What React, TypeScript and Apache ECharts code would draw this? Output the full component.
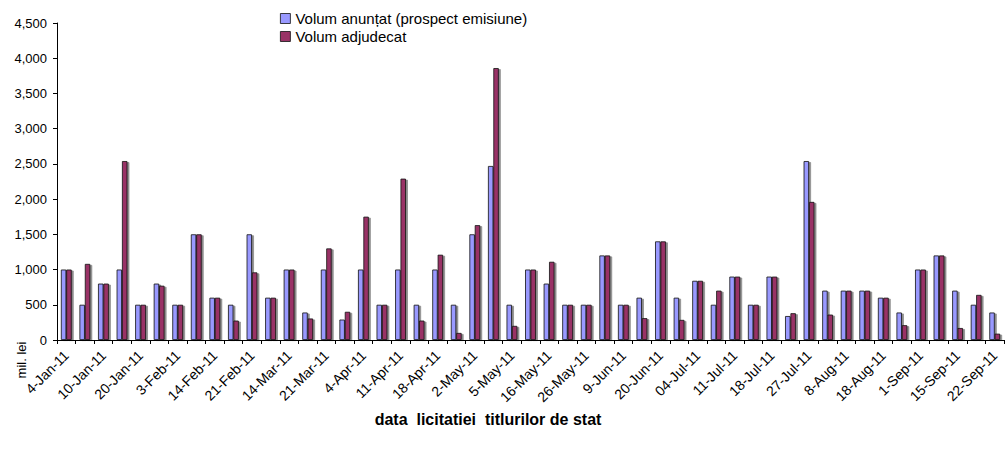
import React, { useEffect, useRef } from "react";
import * as echarts from "echarts";

const categories = [
  "4-Jan-11", "6-Jan-11", "10-Jan-11", "13-Jan-11", "20-Jan-11", "27-Jan-11",
  "3-Feb-11", "10-Feb-11", "14-Feb-11", "17-Feb-11", "21-Feb-11", "28-Feb-11",
  "14-Mar-11", "17-Mar-11", "21-Mar-11", "28-Mar-11", "4-Apr-11", "7-Apr-11",
  "11-Apr-11", "14-Apr-11", "18-Apr-11", "28-Apr-11", "2-May-11", "3-May-11",
  "5-May-11", "12-May-11", "16-May-11", "23-May-11", "26-May-11", "6-Jun-11",
  "9-Jun-11", "13-Jun-11", "20-Jun-11", "27-Jun-11", "04-Jul-11", "07-Jul-11",
  "11-Jul-11", "14-Jul-11", "18-Jul-11", "25-Jul-11", "27-Jul-11", "4-Aug-11",
  "8-Aug-11", "11-Aug-11", "18-Aug-11", "25-Aug-11", "1-Sep-11", "8-Sep-11",
  "15-Sep-11", "19-Sep-11", "22-Sep-11",
];

const announced = [
  1000, 500, 800, 1000, 500, 800, 500, 1500, 600, 500,
  1500, 600, 1000, 390, 1000, 290, 1000, 500, 1000, 500,
  1000, 500, 1500, 2470, 500, 1000, 800, 500, 500, 1200,
  500, 600, 1400, 600, 840, 500, 900, 500, 900, 340,
  2540, 700, 700, 700, 600, 390, 1000, 1200, 700, 500,
  390,
];

const awarded = [
  1000, 1080, 800, 2540, 500, 770, 500, 1500, 600, 275,
  960, 600, 1000, 305, 1300, 400, 1750, 500, 2290, 275,
  1210, 100, 1630, 3860, 200, 1000, 1110, 500, 500, 1200,
  500, 310, 1400, 285, 840, 700, 900, 500, 900, 380,
  1960, 360, 700, 700, 600, 210, 1000, 1200, 170, 640,
  90,
];

const yMin = 0;
const yMax = 4500;
const yStep = 500;

const seriesNames = ["Volum anunțat (prospect emisiune)", "Volum adjudecat"];
const yAxisTitle = "mil. lei";
const xAxisTitle = "data  licitatiei  titlurilor de stat";

const FONT = "'Liberation Sans', Arial, sans-serif";

export default function App() {
  const ref = useRef<HTMLDivElement>(null);
  useEffect(() => {
    document.body.style.margin = "0";
    const chart = echarts.init(ref.current!, null, { renderer: "svg" });
    const barStyle = (color: string) => ({
      color,
      borderColor: "#111",
      borderWidth: 0.8,
      shadowColor: "rgba(0,0,0,0.45)",
      shadowBlur: 1,
      shadowOffsetX: 2,
      shadowOffsetY: 1,
    });
    chart.setOption({
      animation: false,
      textStyle: { fontFamily: FONT },
      grid: { left: 57, right: 3, top: 23, bottom: 109 },
      legend: {
        orient: "vertical",
        left: 275,
        top: 6,
        itemWidth: 10,
        itemHeight: 10,
        itemGap: 3,
        icon: "rect",
        textStyle: { fontSize: 15, color: "#000", fontFamily: FONT },
        itemStyle: { borderColor: "#111", borderWidth: 0.8 },
        data: seriesNames,
      },
      xAxis: {
        type: "category",
        data: categories,
        boundaryGap: true,
        axisLine: { lineStyle: { color: "#000", width: 1 } },
        axisTick: { show: true, interval: 0, length: 4, lineStyle: { color: "#000" } },
        axisLabel: {
          interval: 1,
          rotate: 45,
          fontSize: 14,
          color: "#000",
          fontFamily: FONT,
          margin: 13,
        },
      },
      yAxis: {
        type: "value",
        min: yMin,
        max: yMax,
        interval: yStep,
        axisLine: { show: true, lineStyle: { color: "#000", width: 1 } },
        axisTick: { show: true, length: 4, lineStyle: { color: "#000" } },
        splitLine: { show: false },
        axisLabel: {
          fontSize: 13,
          color: "#000",
          fontFamily: FONT,
          margin: 10,
          formatter: (v: number) => v.toLocaleString("en-US"),
        },
      },
      series: [
        {
          name: seriesNames[0],
          type: "bar",
          data: announced,
          barGap: "0%",
          barCategoryGap: "42%",
          itemStyle: barStyle("#9999FF"),
        },
        {
          name: seriesNames[1],
          type: "bar",
          data: awarded,
          barGap: "0%",
          barCategoryGap: "42%",
          itemStyle: barStyle("#993366"),
        },
      ],
      graphic: [
        {
          type: "text",
          x: 21,
          y: 360,
          rotation: Math.PI / 2,
          style: {
            text: yAxisTitle,
            fontSize: 13,
            fontFamily: FONT,
            fill: "#000",
            textAlign: "center",
            textVerticalAlign: "middle",
          },
        },
        {
          type: "text",
          x: 488,
          y: 419,
          style: {
            text: xAxisTitle,
            fontSize: 16,
            fontWeight: "bold",
            fontFamily: FONT,
            fill: "#000",
            textAlign: "center",
            textVerticalAlign: "middle",
          },
        },
      ],
    });
    return () => chart.dispose();
  }, []);
  return <div ref={ref} style={{ width: 1007, height: 449 }} />;
}
